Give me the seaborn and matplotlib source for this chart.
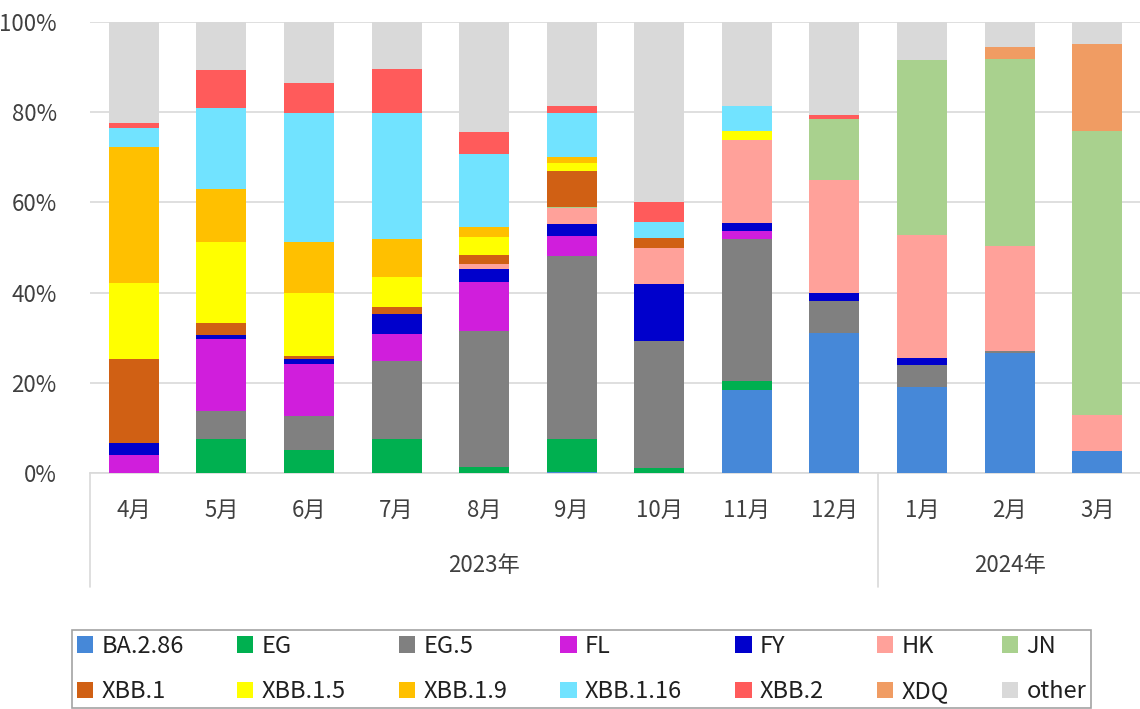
import numpy as np
import pandas as pd
import matplotlib
matplotlib.use("Agg")
import matplotlib.pyplot as plt
import seaborn as sns
from matplotlib.patches import Patch
import matplotlib.transforms as mtrans

months = ['4月', '5月', '6月', '7月', '8月', '9月', '10月', '11月', '12月', '1月', '2月', '3月']
years = ['2023年', '2024年']

ba286 = [0, 0, 0, 0, 0, 0.2, 0, 18.4, 31.0, 19.0, 26.7, 4.8]
eg = [0, 7.5, 5.0, 7.5, 1.3, 7.3, 1.0, 1.9, 0, 0, 0, 0]
eg5 = [0, 6.2, 7.6, 17.3, 30.2, 40.6, 28.3, 31.5, 7.2, 4.9, 0.3, 0]
fl = [4.1, 16.1, 11.6, 6.0, 10.9, 4.5, 0, 1.8, 0, 0, 0, 0]
fy = [2.6, 0.8, 1.1, 4.5, 2.9, 2.7, 12.6, 1.8, 1.7, 1.5, 0, 0]
hk = [0, 0, 0, 0, 1.1, 3.4, 8.0, 18.5, 25.1, 27.3, 23.4, 8.0]
jn = [0, 0, 0, 0, 0, 0.3, 0, 0, 13.4, 38.8, 41.3, 63.0]
xbb1 = [18.6, 2.6, 0.6, 1.6, 2.0, 8.0, 2.2, 0, 0, 0, 0, 0]
xbb15 = [16.9, 18.1, 14.0, 6.6, 4.0, 1.7, 0, 1.9, 0, 0, 0, 0]
xbb19 = [30.0, 11.6, 11.3, 8.3, 2.2, 1.4, 0, 0, 0, 0, 0, 0]
xbb116 = [4.2, 18.1, 28.6, 28.0, 16.2, 9.7, 3.5, 5.6, 0, 0, 0, 0]
xbb2 = [1.3, 8.3, 6.7, 9.8, 4.9, 1.6, 4.5, 0, 1.0, 0, 0, 0]
xdq = [0, 0, 0, 0, 0, 0, 0, 0, 0, 0, 2.7, 19.3]
other = [22.3, 10.7, 13.5, 10.4, 24.3, 18.6, 39.9, 18.6, 20.6, 8.5, 5.6, 4.9]

series_names = ['BA.2.86', 'EG', 'EG.5', 'FL', 'FY', 'HK', 'JN',
                'XBB.1', 'XBB.1.5', 'XBB.1.9', 'XBB.1.16', 'XBB.2', 'XDQ', 'other']
series_values = [ba286, eg, eg5, fl, fy, hk, jn, xbb1, xbb15, xbb19, xbb116, xbb2, xdq, other]
colors = ['#4688D8', '#00B050', '#808080', '#D01EDC', '#0000CC', '#FFA19A', '#A9D18E',
          '#D06014', '#FFFF00', '#FFC000', '#71E3FF', '#FF5B5B', '#F09C63', '#D9D9D9']

sns.set_theme(style="white")
plt.rcParams['font.family'] = ['Noto Sans CJK JP', 'DejaVu Sans']

fig = plt.figure(figsize=(11.4, 7.09), dpi=100)
W, H = 1140, 709
ax = fig.add_axes([90 / W, 1 - 473 / H, 1051 / W, 451 / H])

vals = np.array(series_values, dtype=float)
cum = np.cumsum(vals, axis=0)

# draw cumulative tops from top-most series down so lower segments overdraw
for i in range(len(series_names) - 1, -1, -1):
    df = pd.DataFrame({'month': months, 'value': cum[i]})
    sns.barplot(data=df, x='month', y='value', order=months, color=colors[i],
                saturation=1, width=0.57, ax=ax, linewidth=0, zorder=3)

ax.set_xlim(-0.5, 11.5)
ax.set_ylim(0, 100)
ax.set_yticks([0, 20, 40, 60, 80, 100])
ax.set_yticklabels([f'{v}%' for v in [0, 20, 40, 60, 80, 100]], fontsize=16, color='#404040')
ax.yaxis.grid(True, color='#D9D9D9', linewidth=1.2, zorder=0)
ax.set_axisbelow(True)
ax.tick_params(axis='y', length=0, pad=24)
ax.tick_params(axis='x', length=0, pad=19, labelsize=16, labelcolor='#404040')
ax.set_xlabel('')
ax.set_ylabel('')
for s in ['left', 'right', 'top']:
    ax.spines[s].set_visible(False)
ax.spines['bottom'].set_color('#D9D9D9')
ax.spines['bottom'].set_linewidth(1.2)

trans = mtrans.blended_transform_factory(ax.transData, ax.transAxes)
ybot = -(587 - 473) / 451
for xs in [-0.5, 8.5, 11.5]:
    ax.plot([xs, xs], [0, ybot], transform=trans, color='#D9D9D9', lw=1.2, clip_on=False)
ax.text(4, -(566 - 473) / 451, years[0], transform=trans, ha='center', va='center',
        fontsize=16, color='#404040')
ax.text(10, -(566 - 473) / 451, years[1], transform=trans, ha='center', va='center',
        fontsize=16, color='#404040')

handles = [Patch(facecolor=c, edgecolor='none', label=n) for n, c in zip(series_names, colors)]
order = []
for j in range(7):
    order += [j, j + 7]
leg = fig.legend([handles[k] for k in order], [series_names[k] for k in order],
                 ncol=7, loc='lower left', mode='expand',
                 bbox_to_anchor=(72 / W, 1 / H, (1091 - 72) / W, (708 - 623) / H),
                 frameon=True, fontsize=17, handlelength=0.7, handleheight=0.7,
                 handletextpad=0.35, borderaxespad=0, fancybox=False,
                 labelspacing=0.95, borderpad=0.2, columnspacing=0.5)
leg.get_frame().set_edgecolor('#8C8C8C')
leg.get_frame().set_linewidth(1.2)
for t in leg.get_texts():
    t.set_color('#202020')

fig.savefig('out.png', dpi=100)
